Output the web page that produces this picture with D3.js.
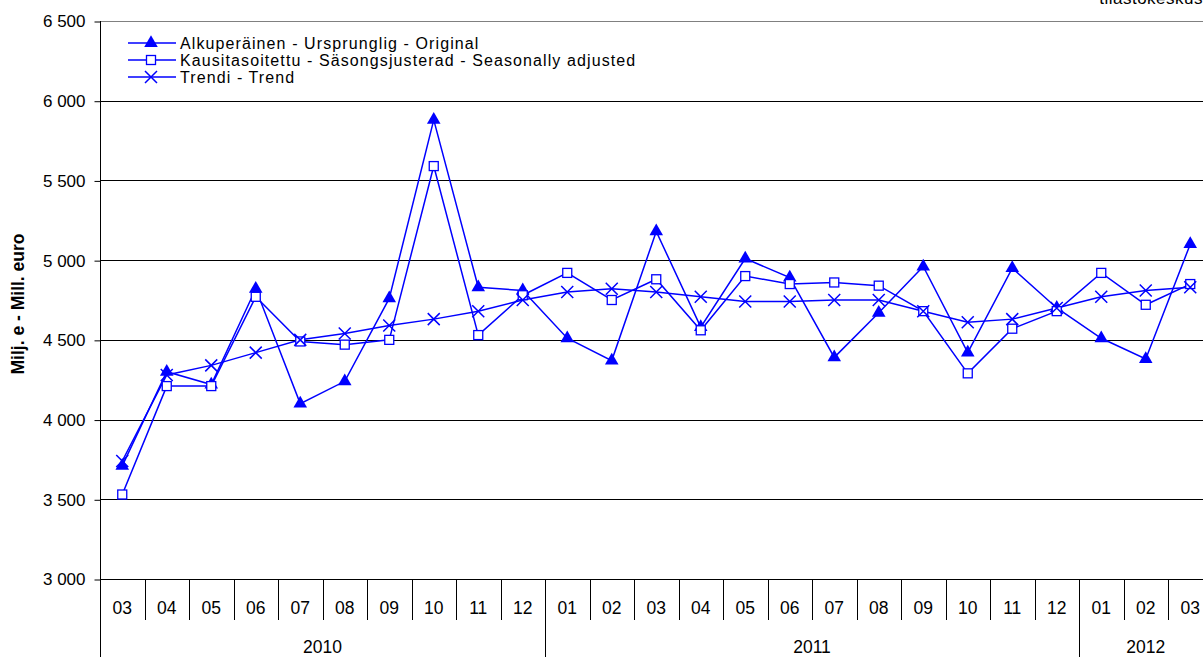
<!DOCTYPE html>
<html>
<head>
<meta charset="utf-8">
<script src="https://cdn.jsdelivr.net/npm/d3@7"></script>
<style>
    body { margin: 0; background: #fff; }
    svg { font-family: "Liberation Sans", Arial, sans-serif; }
</style>
</head>
<body>
<svg id="chart" width="1203" height="657"></svg>
<script>
// months shown on the category axis
const months = ["03","04","05","06","07","08","09","10","11","12",
                "01","02","03","04","05","06","07","08","09","10","11","12",
                "01","02","03"];
const years = [
    {label: "2010", count: 10},
    {label: "2011", count: 12},
    {label: "2012", count: 3}
];
const yTicks = [3000, 3500, 4000, 4500, 5000, 5500, 6000, 6500];

const original = [3710, 4300, 4220, 4820, 4100, 4240, 4760, 5880, 4830, 4810,
                  4510, 4370, 5180, 4580, 5010, 4890, 4390, 4670, 4960, 4420,
                  4950, 4700, 4510, 4380, 5100];
const seasonal = [3530, 4210, 4210, 4770, 4490, 4470, 4500, 5590, 4530, 4780,
                  4920, 4750, 4880, 4560, 4900, 4850, 4860, 4840, 4680, 4290,
                  4570, 4680, 4920, 4720, 4850];
const trend = [3740, 4280, 4340, 4420, 4500, 4540, 4590, 4630, 4680, 4750,
               4800, 4820, 4800, 4770, 4740, 4740, 4750, 4750, 4680, 4610,
               4630, 4700, 4770, 4810, 4830];

const legendLabels = [
    "Alkuperäinen - Ursprunglig - Original",
    "Kausitasoitettu - Säsongsjusterad - Seasonally adjusted",
    "Trendi - Trend"
];

const BLUE = "#0000ff";
const plotLeft = 100, plotTop = 21, plotBottom = 579;
const step = 44.5;

const svg = d3.select("#chart");

const x = d3.scaleBand()
    .domain(d3.range(months.length))
    .range([plotLeft, plotLeft + step * months.length]);
const y = d3.scaleLinear()
    .domain([3000, 6500])
    .range([plotBottom, plotTop]);

// gridlines
svg.append("g").selectAll("line").data(yTicks).join("line")
    .attr("x1", plotLeft).attr("x2", 1203)
    .attr("y1", d => Math.round(y(d)) + 0.5).attr("y2", d => Math.round(y(d)) + 0.5)
    .attr("stroke", d => d === 6500 ? "#808080" : "#000")
    .attr("stroke-width", 1);

// y axis
const yAxis = d3.axisLeft(y)
    .tickValues(yTicks)
    .tickSize(6)
    .tickPadding(9)
    .tickFormat(d => d3.format(",")(d).replace(",", " "));
svg.append("g")
    .attr("transform", `translate(${plotLeft + 0.5},0.5)`)
    .call(yAxis)
    .call(g => g.select(".domain").remove())
    .call(g => g.selectAll("text")
        .attr("font-size", 17).attr("fill", "#000")
        .attr("font-family", "Liberation Sans, Arial, sans-serif"));

// left axis line, continuing through the category area
svg.append("line")
    .attr("x1", plotLeft + 0.5).attr("x2", plotLeft + 0.5)
    .attr("y1", plotTop).attr("y2", 657)
    .attr("stroke", "#000");

svg.append("text")
    .attr("transform", "translate(24,304) rotate(-90)")
    .attr("text-anchor", "middle")
    .attr("font-size", 17.5)
    .attr("font-weight", "bold")
    .text("Milj. e - Mill. euro");

// category axis: month cells
const catG = svg.append("g");
catG.selectAll("line.sep").data(d3.range(1, months.length + 1)).join("line")
    .attr("class", "sep")
    .attr("x1", i => Math.round(plotLeft + step * i) + 0.5)
    .attr("x2", i => Math.round(plotLeft + step * i) + 0.5)
    .attr("y1", plotBottom).attr("y2", 620)
    .attr("stroke", "#000");
catG.selectAll("text").data(months).join("text")
    .attr("x", (d, i) => x(i) + x.bandwidth() / 2)
    .attr("y", 614)
    .attr("text-anchor", "middle")
    .attr("font-size", 17.5)
    .text(d => d);

// year cells
let acc = 0;
const yearPos = years.map(yr => {
    const start = acc;
    acc += yr.count;
    return {label: yr.label, start: start, end: acc};
});
svg.append("g").selectAll("line").data(yearPos).join("line")
    .attr("x1", d => Math.round(plotLeft + step * d.end) + 0.5)
    .attr("x2", d => Math.round(plotLeft + step * d.end) + 0.5)
    .attr("y1", 620).attr("y2", 657)
    .attr("stroke", "#000");
svg.append("g").selectAll("text").data(yearPos).join("text")
    .attr("x", d => plotLeft + step * (d.start + d.end) / 2)
    .attr("y", 653)
    .attr("text-anchor", "middle")
    .attr("font-size", 17.5)
    .text(d => d.label);

// source text cut at the top
svg.append("text")
    .attr("x", 1203).attr("y", 4)
    .attr("text-anchor", "end")
    .attr("font-size", 17)
    .attr("letter-spacing", 0.5)
    .text("tilastokeskus");

// series
const line = d3.line()
    .x((d, i) => x(i) + x.bandwidth() / 2)
    .y(d => y(d));

const triangle = d3.symbol().type(d3.symbolTriangle).size(80);

function drawMarker(g, type, cx, cy) {
    if (type === "tri") {
        g.append("path").attr("d", triangle())
            .attr("transform", `translate(${cx},${cy})`)
            .attr("fill", BLUE);
    } else if (type === "sq") {
        g.append("rect")
            .attr("x", cx - 4.5).attr("y", cy - 4.5)
            .attr("width", 9).attr("height", 9)
            .attr("fill", "#fff").attr("stroke", BLUE).attr("stroke-width", 1.3);
    } else {
        g.append("path")
            .attr("d", `M${cx - 6},${cy - 6}L${cx + 6},${cy + 6}M${cx - 6},${cy + 6}L${cx + 6},${cy - 6}`)
            .attr("stroke", BLUE).attr("stroke-width", 1.5);
    }
}

const series = [
    {values: original, marker: "tri"},
    {values: seasonal, marker: "sq"},
    {values: trend, marker: "x"}
];

const plot = svg.append("g");
series.forEach(s => {
    plot.append("path")
        .datum(s.values)
        .attr("d", line)
        .attr("fill", "none")
        .attr("stroke", BLUE)
        .attr("stroke-width", 1.5);
});
series.forEach(s => {
    const g = plot.append("g");
    s.values.forEach((v, i) => drawMarker(g, s.marker, x(i) + x.bandwidth() / 2, y(v)));
});

// legend
const legend = svg.append("g");
legendLabels.forEach((label, i) => {
    const ly = 43 + i * 17;
    legend.append("line")
        .attr("x1", 128).attr("x2", 176)
        .attr("y1", ly).attr("y2", ly)
        .attr("stroke", BLUE).attr("stroke-width", 1.5);
    drawMarker(legend, series[i].marker, 151, ly);
    legend.append("text")
        .attr("x", 180).attr("y", ly + 5.5)
        .attr("font-size", 16)
        .attr("letter-spacing", 1.1)
        .text(label);
});
</script>
</body>
</html>
